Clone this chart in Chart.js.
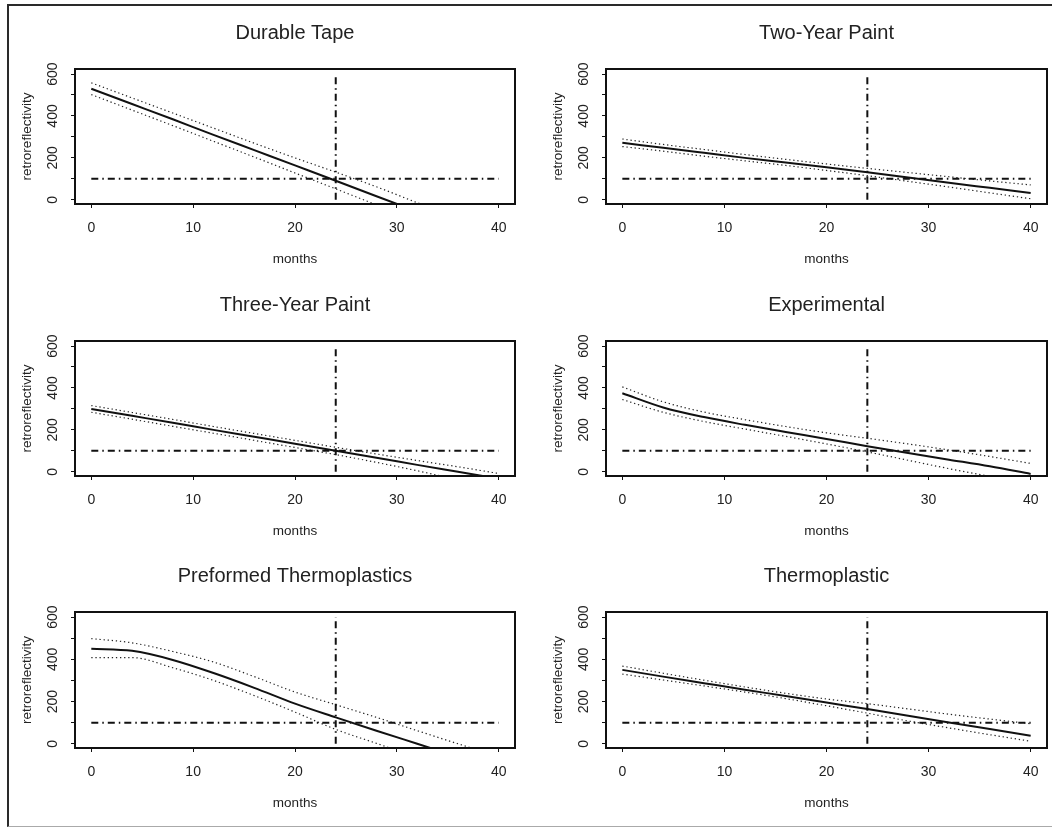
<!DOCTYPE html>
<html>
<head>
<meta charset="utf-8">
<script src="https://cdn.jsdelivr.net/npm/chart.js@4"></script>
<style>
  body { margin: 0; background: #fff; width: 1052px; height: 827px; overflow: hidden; position: relative; }
  #frame { position: absolute; left: 7px; top: 4px; width: 1100px; height: 820px;
           border-top: 2px solid #2a2a2a; border-left: 2px solid #2a2a2a; border-bottom: 1px solid #aaa; }
  canvas { position: absolute; }
</style>
</head>
<body>
<div id="frame"></div>
<canvas id="c0"></canvas>
<canvas id="c1"></canvas>
<canvas id="c2"></canvas>
<canvas id="c3"></canvas>
<canvas id="c4"></canvas>
<canvas id="c5"></canvas>
<script>
const months = [0, 4, 8, 12, 16, 20, 24, 28, 32, 36, 40];
const xTicks = [0, 10, 20, 30, 40];
const yTicks = [0, 100, 200, 300, 400, 500, 600];
const yLabels = [0, 200, 400, 600];
const threshold = 100;
const inspectMonth = 24;

const durableTapeFit   = [530, 457, 384, 310, 237, 164, 91, 17, -56, -129, -202];
const durableTapeUpper = [558, 486, 414, 342, 270, 200, 132, 62, -14, -88, -160];
const durableTapeLower = [502, 428, 354, 279, 204, 128, 52, -24, -100, -176, -252];

const twoYearFit   = [272, 248, 224, 200, 178, 155, 131, 106, 81, 57, 33];
const twoYearUpper = [290, 264, 240, 216, 193, 171, 150, 130, 110, 90, 71];
const twoYearLower = [254, 232, 208, 186, 164, 140, 115, 88, 61, 33, 5];

const threeYearFit   = [300, 267, 234, 200, 167, 134, 100, 67, 33, 0, -33];
const threeYearUpper = [316, 283, 250, 216, 183, 150, 117, 85, 54, 24, -8];
const threeYearLower = [284, 251, 217, 184, 150, 116, 82, 45, 5, -38, -80];

const experimentalFit   = [375, 307, 261, 224, 190, 157, 122, 90, 58, 26, -10];
const experimentalUpper = [405, 334, 285, 249, 216, 186, 160, 133, 104, 73, 40];
const experimentalLower = [345, 284, 240, 204, 169, 133, 95, 55, 15, -22, -60];

const preformedFit   = [450, 440, 397, 335, 265, 190, 125, 62, 0, -62, -124];
const preformedUpper = [498, 478, 437, 387, 318, 245, 185, 125, 62, 0, -60];
const preformedLower = [408, 408, 360, 300, 228, 150, 68, 2, -65, -130, -195];

const thermoFit   = [350, 318, 287, 256, 226, 195, 165, 133, 101, 70, 38];
const thermoUpper = [368, 334, 301, 269, 239, 212, 190, 165, 140, 117, 95];
const thermoLower = [330, 302, 274, 245, 214, 180, 145, 108, 75, 43, 12];

const panels = [
  { title: 'Durable Tape', fit: durableTapeFit, upper: durableTapeUpper, lower: durableTapeLower },
  { title: 'Two-Year Paint', fit: twoYearFit, upper: twoYearUpper, lower: twoYearLower },
  { title: 'Three-Year Paint', fit: threeYearFit, upper: threeYearUpper, lower: threeYearLower },
  { title: 'Experimental', fit: experimentalFit, upper: experimentalUpper, lower: experimentalLower },
  { title: 'Preformed Thermoplastics', fit: preformedFit, upper: preformedUpper, lower: preformedLower },
  { title: 'Thermoplastic', fit: thermoFit, upper: thermoUpper, lower: thermoLower }
];

// plot box positions on the page (left, top, right, bottom)
const boxes = [
  [75, 69, 515, 204], [606, 69, 1047, 204],
  [75, 341, 515, 476], [606, 341, 1047, 476],
  [75, 612, 515, 748], [606, 612, 1047, 748]
];

const FONT = '"Liberation Sans", Arial, Helvetica, sans-serif';
const INK = '#222';
Chart.defaults.font.family = FONT;
Chart.defaults.color = INK;

const AXIS_W = 62, TOP_H = 50, BOTTOM_H = 64, RIGHT_PAD = 5;

// R style frame, rotated y labels and the panel title
const rFrame = {
  id: 'rFrame',
  afterDraw(chart) {
    const { ctx, chartArea: a, scales: { y } } = chart;
    ctx.save();
    ctx.strokeStyle = '#111';
    ctx.lineWidth = 2;
    ctx.strokeRect(a.left, a.top, a.right - a.left, a.bottom - a.top);

    ctx.fillStyle = INK;
    ctx.textAlign = 'center';
    ctx.textBaseline = 'middle';
    ctx.font = '14px ' + FONT;
    yLabels.forEach(v => {
      ctx.save();
      ctx.translate(a.left - 22, y.getPixelForValue(v));
      ctx.rotate(-Math.PI / 2);
      ctx.fillText(String(v), 0, 0);
      ctx.restore();
    });

    ctx.font = '20px ' + FONT;
    ctx.fillText(chart.options.panelTitle, (a.left + a.right) / 2, a.top - 36);
    ctx.restore();
  }
};

const pts = arr => months.map((m, i) => ({ x: m, y: arr[i] }));

panels.forEach((p, i) => {
  const [L, T, R, B] = boxes[i];
  const cv = document.getElementById('c' + i);
  cv.width = AXIS_W + (R - L) + RIGHT_PAD;
  cv.height = TOP_H + (B - T) + BOTTOM_H;
  cv.style.left = (L - AXIS_W) + 'px';
  cv.style.top = (T - TOP_H) + 'px';

  const band = { borderColor: '#222', borderWidth: 1.2, borderDash: [1.3, 2.8], pointRadius: 0, cubicInterpolationMode: 'monotone' };
  const ref = { borderColor: '#111', borderWidth: 2, borderDash: [7, 4, 1.5, 4], pointRadius: 0, tension: 0 };

  new Chart(cv, {
    type: 'line',
    data: {
      datasets: [
        { ...ref, data: [{ x: months[0], y: threshold }, { x: months[months.length - 1], y: threshold }] },
        { ...ref, data: [{ x: inspectMonth, y: yTicks[0] }, { x: inspectMonth, y: yTicks[yTicks.length - 1] }] },
        { ...band, data: pts(p.upper) },
        { ...band, data: pts(p.lower) },
        { borderColor: '#111', borderWidth: 2, pointRadius: 0, cubicInterpolationMode: 'monotone', data: pts(p.fit) }
      ]
    },
    options: {
      panelTitle: p.title,
      responsive: false,
      animation: false,
      layout: { padding: { top: TOP_H, right: RIGHT_PAD, left: 0, bottom: 0 } },
      plugins: { legend: { display: false }, tooltip: { enabled: false }, title: { display: false } },
      scales: {
        x: {
          type: 'linear', min: -1.6, max: 41.6,
          afterBuildTicks: s => { s.ticks = xTicks.map(v => ({ value: v })); },
          afterFit: s => { s.height = BOTTOM_H; },
          grid: { drawOnChartArea: false, tickLength: 4, color: '#111' },
          border: { display: false },
          ticks: { padding: 12, autoSkip: false, maxRotation: 0, font: { size: 14 } },
          title: { display: true, text: 'months', font: { size: 13.5 }, padding: { top: 0, bottom: 1 } }
        },
        y: {
          type: 'linear', min: -20, max: 624,
          afterBuildTicks: s => { s.ticks = yTicks.map(v => ({ value: v })); },
          afterFit: s => { s.width = AXIS_W; },
          grid: { drawOnChartArea: false, tickLength: 4, color: '#111' },
          border: { display: false },
          ticks: { display: false },
          title: { display: true, text: 'retroreflectivity', font: { size: 13.5 }, padding: { top: 6, bottom: 0 } }
        }
      }
    },
    plugins: [rFrame]
  });
});
</script>
</body>
</html>
